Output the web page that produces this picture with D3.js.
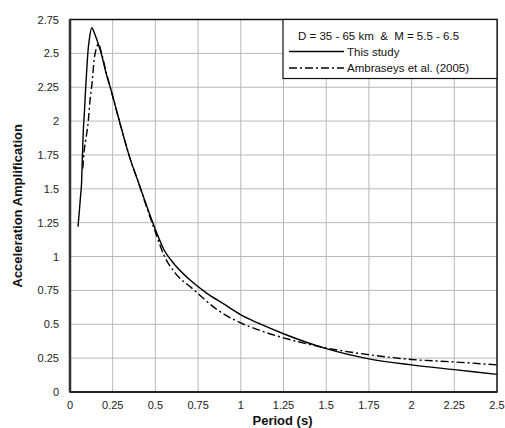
<!DOCTYPE html>
<html lang="en">
<head>
  <meta charset="utf-8">
  <title>Acceleration Amplification</title>
  <script src="https://cdnjs.cloudflare.com/ajax/libs/d3/7.8.5/d3.min.js"></script>
  <style>
    body { margin: 0; background: #fff; }
    svg { font-family: "Liberation Sans", Arial, sans-serif; }
    .grid line { stroke: #b8b8b8; stroke-width: 1; }
    .tick-label { font-size: 11px; fill: #222; }
    .title { font-size: 13px; font-weight: bold; fill: #111; }
    .curve { fill: none; stroke: #000; stroke-width: 1.4; }
    .legend text { font-size: 11.5px; fill: #111; white-space: pre; }
  </style>
</head>
<body>
<svg id="chart" width="505" height="428"></svg>
<script>
  // data
  var xTicks = [0, 0.25, 0.5, 0.75, 1, 1.25, 1.5, 1.75, 2, 2.25, 2.5];
  var yTicks = [0, 0.25, 0.5, 0.75, 1, 1.25, 1.5, 1.75, 2, 2.25, 2.5, 2.75];

  // This study
  var studyPeriod = [0.047, 0.055, 0.062, 0.068, 0.072, 0.078, 0.085, 0.092, 0.100, 0.107, 0.115, 0.127,
    0.14, 0.16, 0.185, 0.21, 0.24, 0.27, 0.30, 0.35, 0.40, 0.45, 0.50, 0.55, 0.60, 0.70, 0.80, 0.90,
    1.00, 1.10, 1.25, 1.50, 1.75, 2.00, 2.25, 2.50];
  var studyAmp = [1.22, 1.34, 1.45, 1.55, 1.72, 1.93, 2.08, 2.25, 2.42, 2.54, 2.62, 2.69,
    2.66, 2.59, 2.49, 2.36, 2.23, 2.09, 1.95, 1.73, 1.55, 1.37, 1.20, 1.05, 0.96, 0.83, 0.73, 0.65,
    0.57, 0.51, 0.43, 0.32, 0.245, 0.20, 0.165, 0.13];

  // Ambraseys et al. (2005)
  var ambPeriod = [0.075, 0.082, 0.092, 0.107, 0.117, 0.13, 0.142, 0.155, 0.166, 0.185, 0.21, 0.24,
    0.30, 0.35, 0.40, 0.45, 0.50, 0.55, 0.615, 0.72, 0.87, 1.00, 1.10, 1.25, 1.50, 1.75, 2.00, 2.25, 2.50];
  var ambAmp = [1.65, 1.77, 1.86, 2.0, 2.15, 2.29, 2.46, 2.54, 2.57, 2.50, 2.37, 2.23,
    1.95, 1.73, 1.55, 1.36, 1.18, 1.01, 0.88, 0.76, 0.60, 0.51, 0.46, 0.40, 0.325, 0.275, 0.24, 0.222, 0.20];

  var legendTitle = "D = 35 - 65 km  &  M = 5.5 - 6.5";
  var seriesNames = ["This study", "Ambraseys et al. (2005)"];

  var margin = { top: 19.5, right: 8, bottom: 36, left: 70 };
  var width = 505 - margin.left - margin.right,
      height = 428 - margin.top - margin.bottom;

  var svg = d3.select("#chart");
  var g = svg.append("g")
    .attr("transform", "translate(" + margin.left + "," + margin.top + ")");

  var x = d3.scaleLinear().domain([0, 2.5]).range([0, width]);
  var y = d3.scaleLinear().domain([0, 2.75]).range([height, 0]);

  // grid
  var grid = g.append("g").attr("class", "grid");
  grid.selectAll(".vx").data(xTicks.slice(1, -1)).enter().append("line")
    .attr("x1", d => x(d)).attr("x2", d => x(d))
    .attr("y1", 0).attr("y2", height);
  grid.selectAll(".hy").data(yTicks.slice(1, -1)).enter().append("line")
    .attr("x1", 0).attr("x2", width)
    .attr("y1", d => y(d)).attr("y2", d => y(d));

  // tick labels
  g.selectAll(".xl").data(xTicks).enter().append("text")
    .attr("class", "tick-label")
    .attr("x", d => x(d)).attr("y", height + 17)
    .attr("text-anchor", "middle")
    .text(d => d);
  g.selectAll(".yl").data(yTicks).enter().append("text")
    .attr("class", "tick-label")
    .attr("x", -11).attr("y", d => y(d) + 4)
    .attr("text-anchor", "end")
    .text(d => d);

  // curves
  var line = d3.line().curve(d3.curveMonotoneX)
    .x(d => x(d[0])).y(d => y(d[1]));
  g.append("path").attr("class", "curve")
    .datum(d3.zip(studyPeriod, studyAmp))
    .attr("d", line);
  g.append("path").attr("class", "curve")
    .datum(d3.zip(ambPeriod, ambAmp))
    .attr("stroke-dasharray", "8,3,2,3")
    .attr("d", line);

  // frame
  g.append("rect")
    .attr("x", 0).attr("y", 0).attr("width", width).attr("height", height)
    .attr("fill", "none").attr("stroke", "#111").attr("stroke-width", 1.5);
  g.append("line").attr("x1", 0).attr("x2", 0).attr("y1", 0).attr("y2", height)
    .attr("stroke", "#333").attr("stroke-width", 2.5);
  g.append("line").attr("x1", 0).attr("x2", width).attr("y1", height).attr("y2", height)
    .attr("stroke", "#222").attr("stroke-width", 2);

  // axis titles
  svg.append("text").attr("class", "title")
    .attr("x", margin.left + width / 2 - 1).attr("y", 425)
    .attr("text-anchor", "middle")
    .text("Period (s)");
  svg.append("text").attr("class", "title")
    .attr("transform", "translate(22," + (margin.top + height / 2) + ") rotate(-90)")
    .attr("text-anchor", "middle")
    .text("Acceleration Amplification");

  // legend
  var lg = g.append("g").attr("class", "legend")
    .attr("transform", "translate(" + (width - 214) + ",0)");
  lg.append("rect").attr("width", 214).attr("height", 59)
    .attr("fill", "#fff").attr("stroke", "#111").attr("stroke-width", 1.2);
  lg.append("text").attr("x", 15).attr("y", 20).text(legendTitle);
  seriesNames.forEach(function (name, i) {
    var yy = 32 + i * 16.5;
    lg.append("line").attr("class", "curve")
      .attr("x1", 6).attr("x2", 61).attr("y1", yy).attr("y2", yy)
      .attr("stroke-dasharray", i ? "8,3,2,3" : null);
    lg.append("text").attr("x", 64).attr("y", yy + 4).text(name);
  });
</script>
</body>
</html>
